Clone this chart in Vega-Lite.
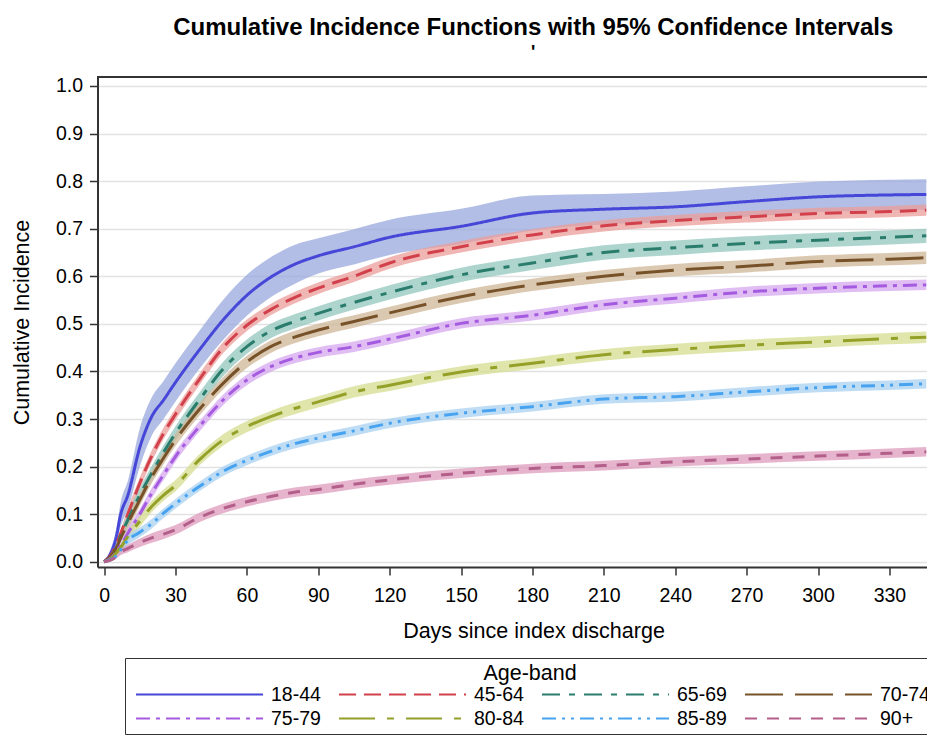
{
"$schema": "https://vega.github.io/schema/vega-lite/v6.json",
"width": 829.5, "height": 490,
"autosize": "none",
"padding": {"left": 97.5, "top": 77, "right": 0, "bottom": 173},
"background": "white",
"title": {"text": "Cumulative Incidence Functions with 95% Confidence Intervals", "subtitle": "'", "fontSize": 24, "fontWeight": "bold", "color": "black", "anchor": "middle", "dx": 21, "offset": 14, "subtitleFontSize": 18, "subtitleFontWeight": "bold", "subtitleColor": "black", "subtitlePadding": 4},
"config": {"font": "Liberation Sans", "view": {"stroke": null}},
"data": {"values": [
{"g":"18-44","d":0,"v":0,"lo":0,"hi":0},{"g":"18-44","d":3,"v":0.02,"lo":0.01,"hi":0.03},{"g":"18-44","d":5,"v":0.05,"lo":0.035,"hi":0.065},{"g":"18-44","d":7,"v":0.1,"lo":0.075,"hi":0.125},{"g":"18-44","d":10,"v":0.14,"lo":0.11,"hi":0.17},{"g":"18-44","d":15,"v":0.24,"lo":0.2,"hi":0.28},{"g":"18-44","d":20,"v":0.305,"lo":0.265,"hi":0.345},{"g":"18-44","d":25,"v":0.34,"lo":0.3,"hi":0.38},{"g":"18-44","d":30,"v":0.377,"lo":0.337,"hi":0.417},{"g":"18-44","d":40,"v":0.445,"lo":0.405,"hi":0.485},{"g":"18-44","d":50,"v":0.508,"lo":0.466,"hi":0.55},{"g":"18-44","d":60,"v":0.56,"lo":0.517,"hi":0.603},{"g":"18-44","d":70,"v":0.598,"lo":0.556,"hi":0.64},{"g":"18-44","d":80,"v":0.625,"lo":0.584,"hi":0.666},{"g":"18-44","d":90,"v":0.643,"lo":0.606,"hi":0.68},{"g":"18-44","d":105,"v":0.662,"lo":0.625,"hi":0.699},{"g":"18-44","d":120,"v":0.682,"lo":0.645,"hi":0.719},{"g":"18-44","d":150,"v":0.705,"lo":0.668,"hi":0.742},{"g":"18-44","d":180,"v":0.733,"lo":0.696,"hi":0.77},{"g":"18-44","d":210,"v":0.741,"lo":0.709,"hi":0.773},{"g":"18-44","d":240,"v":0.746,"lo":0.714,"hi":0.778},{"g":"18-44","d":270,"v":0.757,"lo":0.725,"hi":0.789},{"g":"18-44","d":300,"v":0.767,"lo":0.735,"hi":0.799},{"g":"18-44","d":330,"v":0.771,"lo":0.739,"hi":0.803},{"g":"18-44","d":345.5,"v":0.772,"lo":0.74,"hi":0.804},
{"g":"45-64","d":0,"v":0,"lo":0,"hi":0},{"g":"45-64","d":3,"v":0.015,"lo":0.011,"hi":0.019},{"g":"45-64","d":5,"v":0.035,"lo":0.029,"hi":0.041},{"g":"45-64","d":7,"v":0.06,"lo":0.052,"hi":0.068},{"g":"45-64","d":10,"v":0.1,"lo":0.088,"hi":0.112},{"g":"45-64","d":15,"v":0.165,"lo":0.153,"hi":0.177},{"g":"45-64","d":20,"v":0.222,"lo":0.21,"hi":0.234},{"g":"45-64","d":25,"v":0.27,"lo":0.258,"hi":0.282},{"g":"45-64","d":30,"v":0.31,"lo":0.298,"hi":0.322},{"g":"45-64","d":40,"v":0.383,"lo":0.371,"hi":0.395},{"g":"45-64","d":50,"v":0.45,"lo":0.438,"hi":0.462},{"g":"45-64","d":60,"v":0.497,"lo":0.485,"hi":0.509},{"g":"45-64","d":70,"v":0.53,"lo":0.518,"hi":0.542},{"g":"45-64","d":80,"v":0.555,"lo":0.543,"hi":0.567},{"g":"45-64","d":90,"v":0.575,"lo":0.563,"hi":0.587},{"g":"45-64","d":105,"v":0.6,"lo":0.588,"hi":0.612},{"g":"45-64","d":120,"v":0.628,"lo":0.616,"hi":0.64},{"g":"45-64","d":150,"v":0.662,"lo":0.65,"hi":0.674},{"g":"45-64","d":180,"v":0.687,"lo":0.675,"hi":0.699},{"g":"45-64","d":210,"v":0.706,"lo":0.694,"hi":0.718},{"g":"45-64","d":240,"v":0.717,"lo":0.705,"hi":0.729},{"g":"45-64","d":270,"v":0.725,"lo":0.713,"hi":0.737},{"g":"45-64","d":300,"v":0.732,"lo":0.72,"hi":0.744},{"g":"45-64","d":330,"v":0.736,"lo":0.724,"hi":0.748},{"g":"45-64","d":345.5,"v":0.739,"lo":0.727,"hi":0.751},
{"g":"65-69","d":0,"v":0,"lo":0,"hi":0},{"g":"65-69","d":3,"v":0.012,"lo":0.007,"hi":0.017},{"g":"65-69","d":5,"v":0.03,"lo":0.022,"hi":0.038},{"g":"65-69","d":7,"v":0.055,"lo":0.045,"hi":0.065},{"g":"65-69","d":10,"v":0.088,"lo":0.073,"hi":0.103},{"g":"65-69","d":15,"v":0.14,"lo":0.125,"hi":0.155},{"g":"65-69","d":20,"v":0.186,"lo":0.171,"hi":0.201},{"g":"65-69","d":25,"v":0.23,"lo":0.215,"hi":0.245},{"g":"65-69","d":30,"v":0.27,"lo":0.255,"hi":0.285},{"g":"65-69","d":40,"v":0.34,"lo":0.325,"hi":0.355},{"g":"65-69","d":50,"v":0.405,"lo":0.39,"hi":0.42},{"g":"65-69","d":60,"v":0.452,"lo":0.437,"hi":0.467},{"g":"65-69","d":70,"v":0.485,"lo":0.47,"hi":0.5},{"g":"65-69","d":80,"v":0.505,"lo":0.49,"hi":0.52},{"g":"65-69","d":90,"v":0.522,"lo":0.507,"hi":0.537},{"g":"65-69","d":105,"v":0.545,"lo":0.53,"hi":0.56},{"g":"65-69","d":120,"v":0.566,"lo":0.551,"hi":0.581},{"g":"65-69","d":150,"v":0.603,"lo":0.588,"hi":0.618},{"g":"65-69","d":180,"v":0.628,"lo":0.613,"hi":0.643},{"g":"65-69","d":210,"v":0.65,"lo":0.635,"hi":0.665},{"g":"65-69","d":240,"v":0.66,"lo":0.645,"hi":0.675},{"g":"65-69","d":270,"v":0.669,"lo":0.654,"hi":0.684},{"g":"65-69","d":300,"v":0.676,"lo":0.661,"hi":0.691},{"g":"65-69","d":330,"v":0.682,"lo":0.667,"hi":0.697},{"g":"65-69","d":345.5,"v":0.685,"lo":0.67,"hi":0.7},
{"g":"70-74","d":0,"v":0,"lo":0,"hi":0},{"g":"70-74","d":3,"v":0.012,"lo":0.008,"hi":0.016},{"g":"70-74","d":5,"v":0.028,"lo":0.021,"hi":0.035},{"g":"70-74","d":7,"v":0.05,"lo":0.041,"hi":0.059},{"g":"70-74","d":10,"v":0.081,"lo":0.068,"hi":0.094},{"g":"70-74","d":15,"v":0.13,"lo":0.117,"hi":0.143},{"g":"70-74","d":20,"v":0.178,"lo":0.165,"hi":0.191},{"g":"70-74","d":25,"v":0.218,"lo":0.205,"hi":0.231},{"g":"70-74","d":30,"v":0.256,"lo":0.243,"hi":0.269},{"g":"70-74","d":40,"v":0.32,"lo":0.307,"hi":0.333},{"g":"70-74","d":50,"v":0.375,"lo":0.362,"hi":0.388},{"g":"70-74","d":60,"v":0.42,"lo":0.407,"hi":0.433},{"g":"70-74","d":70,"v":0.452,"lo":0.439,"hi":0.465},{"g":"70-74","d":80,"v":0.472,"lo":0.459,"hi":0.485},{"g":"70-74","d":90,"v":0.487,"lo":0.474,"hi":0.5},{"g":"70-74","d":105,"v":0.505,"lo":0.492,"hi":0.518},{"g":"70-74","d":120,"v":0.523,"lo":0.51,"hi":0.536},{"g":"70-74","d":150,"v":0.557,"lo":0.544,"hi":0.57},{"g":"70-74","d":180,"v":0.582,"lo":0.569,"hi":0.595},{"g":"70-74","d":210,"v":0.6,"lo":0.587,"hi":0.613},{"g":"70-74","d":240,"v":0.613,"lo":0.6,"hi":0.626},{"g":"70-74","d":270,"v":0.621,"lo":0.608,"hi":0.634},{"g":"70-74","d":300,"v":0.631,"lo":0.618,"hi":0.644},{"g":"70-74","d":330,"v":0.636,"lo":0.623,"hi":0.649},{"g":"70-74","d":345.5,"v":0.639,"lo":0.626,"hi":0.652},
{"g":"75-79","d":0,"v":0,"lo":0,"hi":0},{"g":"75-79","d":3,"v":0.008,"lo":0.005,"hi":0.011},{"g":"75-79","d":5,"v":0.02,"lo":0.014,"hi":0.026},{"g":"75-79","d":7,"v":0.035,"lo":0.027,"hi":0.043},{"g":"75-79","d":10,"v":0.06,"lo":0.049,"hi":0.071},{"g":"75-79","d":15,"v":0.1,"lo":0.089,"hi":0.111},{"g":"75-79","d":20,"v":0.144,"lo":0.133,"hi":0.155},{"g":"75-79","d":25,"v":0.183,"lo":0.172,"hi":0.194},{"g":"75-79","d":30,"v":0.221,"lo":0.21,"hi":0.232},{"g":"75-79","d":40,"v":0.284,"lo":0.273,"hi":0.295},{"g":"75-79","d":50,"v":0.34,"lo":0.329,"hi":0.351},{"g":"75-79","d":60,"v":0.382,"lo":0.371,"hi":0.393},{"g":"75-79","d":70,"v":0.41,"lo":0.399,"hi":0.421},{"g":"75-79","d":80,"v":0.428,"lo":0.417,"hi":0.439},{"g":"75-79","d":90,"v":0.44,"lo":0.429,"hi":0.451},{"g":"75-79","d":105,"v":0.452,"lo":0.441,"hi":0.463},{"g":"75-79","d":120,"v":0.468,"lo":0.457,"hi":0.479},{"g":"75-79","d":150,"v":0.501,"lo":0.49,"hi":0.512},{"g":"75-79","d":180,"v":0.518,"lo":0.507,"hi":0.529},{"g":"75-79","d":210,"v":0.54,"lo":0.529,"hi":0.551},{"g":"75-79","d":240,"v":0.554,"lo":0.543,"hi":0.565},{"g":"75-79","d":270,"v":0.567,"lo":0.556,"hi":0.578},{"g":"75-79","d":300,"v":0.575,"lo":0.564,"hi":0.586},{"g":"75-79","d":330,"v":0.58,"lo":0.569,"hi":0.591},{"g":"75-79","d":345.5,"v":0.582,"lo":0.571,"hi":0.593},
{"g":"80-84","d":0,"v":0,"lo":0,"hi":0},{"g":"80-84","d":3,"v":0.007,"lo":0.004,"hi":0.01},{"g":"80-84","d":5,"v":0.018,"lo":0.012,"hi":0.024},{"g":"80-84","d":7,"v":0.03,"lo":0.022,"hi":0.038},{"g":"80-84","d":10,"v":0.053,"lo":0.041,"hi":0.065},{"g":"80-84","d":15,"v":0.085,"lo":0.073,"hi":0.097},{"g":"80-84","d":20,"v":0.116,"lo":0.104,"hi":0.128},{"g":"80-84","d":25,"v":0.14,"lo":0.128,"hi":0.152},{"g":"80-84","d":30,"v":0.16,"lo":0.148,"hi":0.172},{"g":"80-84","d":40,"v":0.214,"lo":0.202,"hi":0.226},{"g":"80-84","d":50,"v":0.256,"lo":0.244,"hi":0.268},{"g":"80-84","d":60,"v":0.284,"lo":0.272,"hi":0.296},{"g":"80-84","d":70,"v":0.305,"lo":0.293,"hi":0.317},{"g":"80-84","d":80,"v":0.322,"lo":0.31,"hi":0.334},{"g":"80-84","d":90,"v":0.336,"lo":0.324,"hi":0.348},{"g":"80-84","d":105,"v":0.357,"lo":0.345,"hi":0.369},{"g":"80-84","d":120,"v":0.371,"lo":0.359,"hi":0.383},{"g":"80-84","d":150,"v":0.399,"lo":0.387,"hi":0.411},{"g":"80-84","d":180,"v":0.417,"lo":0.405,"hi":0.429},{"g":"80-84","d":210,"v":0.435,"lo":0.423,"hi":0.447},{"g":"80-84","d":240,"v":0.446,"lo":0.434,"hi":0.458},{"g":"80-84","d":270,"v":0.455,"lo":0.443,"hi":0.467},{"g":"80-84","d":300,"v":0.462,"lo":0.45,"hi":0.474},{"g":"80-84","d":330,"v":0.469,"lo":0.457,"hi":0.481},{"g":"80-84","d":345.5,"v":0.472,"lo":0.46,"hi":0.484},
{"g":"85-89","d":0,"v":0,"lo":0,"hi":0},{"g":"85-89","d":3,"v":0.005,"lo":0.002,"hi":0.008},{"g":"85-89","d":5,"v":0.012,"lo":0.007,"hi":0.017},{"g":"85-89","d":7,"v":0.025,"lo":0.018,"hi":0.032},{"g":"85-89","d":10,"v":0.045,"lo":0.035,"hi":0.055},{"g":"85-89","d":15,"v":0.062,"lo":0.052,"hi":0.072},{"g":"85-89","d":20,"v":0.08,"lo":0.07,"hi":0.09},{"g":"85-89","d":25,"v":0.102,"lo":0.092,"hi":0.112},{"g":"85-89","d":30,"v":0.122,"lo":0.112,"hi":0.132},{"g":"85-89","d":40,"v":0.158,"lo":0.148,"hi":0.168},{"g":"85-89","d":50,"v":0.19,"lo":0.18,"hi":0.2},{"g":"85-89","d":60,"v":0.213,"lo":0.203,"hi":0.223},{"g":"85-89","d":70,"v":0.232,"lo":0.222,"hi":0.242},{"g":"85-89","d":80,"v":0.248,"lo":0.238,"hi":0.258},{"g":"85-89","d":90,"v":0.26,"lo":0.25,"hi":0.27},{"g":"85-89","d":105,"v":0.275,"lo":0.265,"hi":0.285},{"g":"85-89","d":120,"v":0.291,"lo":0.281,"hi":0.301},{"g":"85-89","d":150,"v":0.312,"lo":0.302,"hi":0.322},{"g":"85-89","d":180,"v":0.326,"lo":0.316,"hi":0.336},{"g":"85-89","d":210,"v":0.342,"lo":0.332,"hi":0.352},{"g":"85-89","d":240,"v":0.347,"lo":0.337,"hi":0.357},{"g":"85-89","d":270,"v":0.357,"lo":0.347,"hi":0.367},{"g":"85-89","d":300,"v":0.366,"lo":0.356,"hi":0.376},{"g":"85-89","d":330,"v":0.371,"lo":0.361,"hi":0.381},{"g":"85-89","d":345.5,"v":0.374,"lo":0.364,"hi":0.384},
{"g":"90+","d":0,"v":0,"lo":0,"hi":0},{"g":"90+","d":3,"v":0.004,"lo":0.002,"hi":0.006},{"g":"90+","d":5,"v":0.01,"lo":0.006,"hi":0.014},{"g":"90+","d":7,"v":0.02,"lo":0.014,"hi":0.026},{"g":"90+","d":10,"v":0.028,"lo":0.02,"hi":0.036},{"g":"90+","d":15,"v":0.04,"lo":0.031,"hi":0.049},{"g":"90+","d":20,"v":0.05,"lo":0.04,"hi":0.06},{"g":"90+","d":25,"v":0.058,"lo":0.048,"hi":0.068},{"g":"90+","d":30,"v":0.067,"lo":0.057,"hi":0.077},{"g":"90+","d":40,"v":0.093,"lo":0.083,"hi":0.103},{"g":"90+","d":50,"v":0.112,"lo":0.102,"hi":0.122},{"g":"90+","d":60,"v":0.126,"lo":0.116,"hi":0.136},{"g":"90+","d":70,"v":0.137,"lo":0.127,"hi":0.147},{"g":"90+","d":80,"v":0.146,"lo":0.136,"hi":0.156},{"g":"90+","d":90,"v":0.152,"lo":0.142,"hi":0.162},{"g":"90+","d":105,"v":0.163,"lo":0.153,"hi":0.173},{"g":"90+","d":120,"v":0.172,"lo":0.162,"hi":0.182},{"g":"90+","d":150,"v":0.186,"lo":0.176,"hi":0.196},{"g":"90+","d":180,"v":0.196,"lo":0.186,"hi":0.206},{"g":"90+","d":210,"v":0.202,"lo":0.192,"hi":0.212},{"g":"90+","d":240,"v":0.21,"lo":0.2,"hi":0.22},{"g":"90+","d":270,"v":0.216,"lo":0.206,"hi":0.226},{"g":"90+","d":300,"v":0.222,"lo":0.212,"hi":0.232},{"g":"90+","d":330,"v":0.228,"lo":0.218,"hi":0.238},{"g":"90+","d":345.5,"v":0.231,"lo":0.221,"hi":0.241}
]},
"layer": [
  {"mark": {"type": "area", "opacity": 0.75, "clip": true, "interpolate": "monotone"},
   "encoding": {
     "x": {"field": "d", "type": "quantitative", "scale": {"domain": [-2.77, 345.8], "nice": false, "zero": false},
        "axis": {"values": [0,30,60,90,120,150,180,210,240,270,300,330], "title": "Days since index discharge", "titleX": 436, "titleFontSize": 21.5, "titleFontWeight": "normal", "titleColor": "black", "titlePadding": 16, "labelFontSize": 19.5, "labelColor": "black", "labelPadding": 11, "labelFlush": false, "tickSize": 8, "tickColor": "#333", "tickWidth": 1.5, "domainColor": "#333", "domainWidth": 2, "grid": false}},
     "y": {"field": "lo", "type": "quantitative", "scale": {"domain": [-0.0111, 1.0189], "nice": false, "zero": false},
        "axis": {"values": [0,0.1,0.2,0.3,0.4,0.5,0.6,0.7,0.8,0.9,1.0], "format": ".1f", "title": "Cumulative Incidence", "titleFontSize": 21.5, "titleFontWeight": "normal", "titleColor": "black", "titlePadding": 22, "labelFontSize": 19.5, "labelColor": "black", "labelPadding": 7, "tickSize": 8, "tickColor": "#333", "tickWidth": 1.5, "domainColor": "#333", "domainWidth": 2, "grid": true, "gridColor": "#e2e2e2", "gridWidth": 1.5}},
     "y2": {"field": "hi"},
     "fill": {"field": "g", "type": "nominal", "legend": null,
        "scale": {"domain": ["90+","85-89","80-84","75-79","70-74","65-69","45-64","18-44"],
                  "range": ["#dd9cbc","#a9d0f2","#d6de8f","#d5a8ef","#cfb597","#92c6bc","#eb9d9a","#98a8dc"]}}
   }},
  {"mark": {"type": "line", "strokeWidth": 3, "clip": true, "interpolate": "monotone"},
   "encoding": {
     "x": {"field": "d", "type": "quantitative"},
     "y": {"field": "v", "type": "quantitative"},
     "stroke": {"field": "g", "type": "nominal",
        "scale": {"domain": ["18-44","45-64","65-69","70-74","75-79","80-84","85-89","90+"],
                  "range": ["#4646d8","#d2414b","#2a7d6c","#775229","#a55be0","#94a027","#47a3f0","#b35f8a"]},
        "legend": {"title": "Age-band", "orient": "none", "legendX": 27.5, "legendY": 581, "direction": "horizontal", "columns": 4, "symbolType": "stroke", "symbolSize": 16129, "symbolStrokeWidth": 2, "clipHeight": 20, "rowPadding": 4, "columnPadding": 12, "symbolOffset": 5, "labelOffset": 7, "labelFontSize": 19.5, "labelColor": "black", "titleFontSize": 21.5, "titleFontWeight": "normal", "titleColor": "black", "titleAnchor": "middle", "titlePadding": 0, "padding": 5, "strokeColor": "#333"}},
     "strokeDash": {"field": "g", "type": "nominal",
        "scale": {"domain": ["18-44","45-64","65-69","70-74","75-79","80-84","85-89","90+"],
                  "range": [[1,0],[17,8],[18,9,6,9],[38,12],[14,6,4,6],[36,12,7,12],[14,6,3,6,3,6],[12,10]]},
        "legend": {"title": "Age-band", "orient": "none", "legendX": 27.5, "legendY": 581, "direction": "horizontal", "columns": 4, "symbolType": "stroke", "symbolSize": 16129, "symbolStrokeWidth": 2, "clipHeight": 20, "rowPadding": 4, "columnPadding": 12, "symbolOffset": 5, "labelOffset": 7, "labelFontSize": 19.5, "labelColor": "black", "titleFontSize": 21.5, "titleFontWeight": "normal", "titleColor": "black", "titleAnchor": "middle", "titlePadding": 0, "padding": 5, "strokeColor": "#333"}}
   }},
  {"mark": {"type": "rule", "color": "#333", "strokeWidth": 2},
   "encoding": {"y": {"datum": 1.0189, "type": "quantitative"}}}
]
}
